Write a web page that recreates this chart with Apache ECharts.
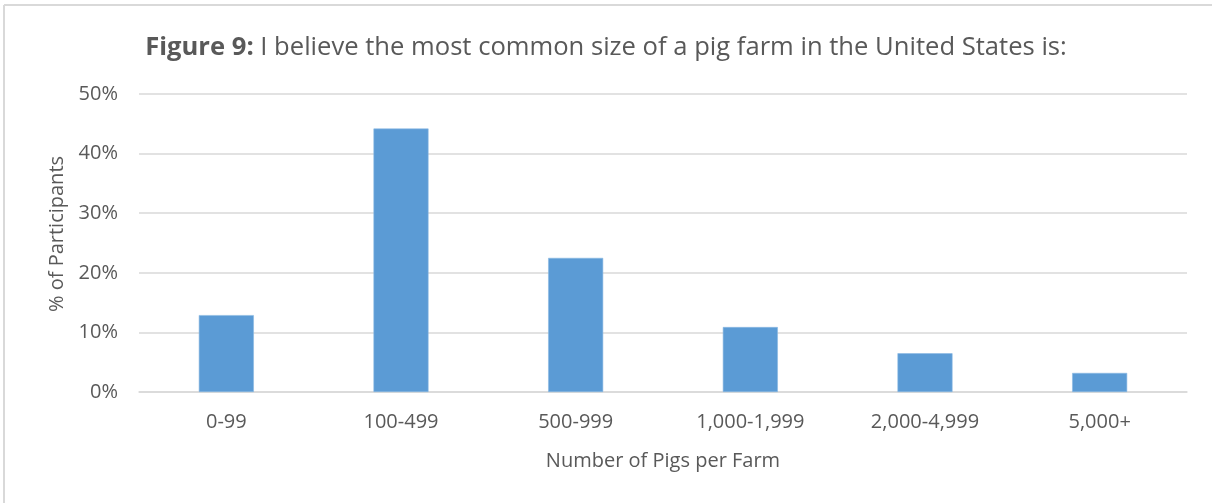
<!DOCTYPE html>
<html>
<head>
<meta charset="utf-8">
<script src="https://cdn.jsdelivr.net/npm/echarts@6/dist/echarts.min.js"></script>
<style>
  html, body { margin: 0; padding: 0; background: #fff; }
  #chart { width: 1212px; height: 503px; }
</style>
</head>
<body>
<div id="chart"></div>
<script>
// Farm size categories and share of participants choosing each (%)
const categories = ['0-99', '100-499', '500-999', '1,000-1,999', '2,000-4,999', '5,000+'];
const participantShare = [12.9, 44.2, 22.5, 10.9, 6.5, 3.2];
const yTicks = [0, 10, 20, 30, 40, 50];

const FONT = '"Open Sans", "Noto Sans", sans-serif';
const TEXT = '#595959';

const chart = echarts.init(document.getElementById('chart'), null, { renderer: 'canvas' });

chart.setOption({
  backgroundColor: '#ffffff',
  animation: false,
  title: {
    text: '{b|Figure 9:} I believe the most common size of a pig farm in the United States is:',
    left: 'center',
    top: 30,
    textStyle: {
      fontFamily: FONT,
      fontSize: 25.6,
      fontWeight: 'normal',
      color: TEXT,
      rich: {
        b: { fontFamily: FONT, fontSize: 25.6, fontWeight: 'bold', color: TEXT }
      }
    }
  },
  graphic: [
    { type: 'line', shape: { x1: 4, y1: 5, x2: 1212, y2: 5 }, style: { stroke: '#d9d9d9', lineWidth: 2 } },
    { type: 'line', shape: { x1: 4, y1: 5, x2: 4, y2: 503 }, style: { stroke: '#d9d9d9', lineWidth: 2 } }
  ],
  grid: { left: 139, right: 25, top: 94, bottom: 111, containLabel: false },
  xAxis: {
    type: 'category',
    data: categories,
    name: 'Number of Pigs per Farm',
    nameLocation: 'middle',
    nameGap: 59,
    nameTextStyle: { fontFamily: FONT, fontSize: 20, color: TEXT },
    axisLine: { show: true, lineStyle: { color: '#d9d9d9', width: 1.5 } },
    axisTick: { show: false },
    axisLabel: { fontFamily: FONT, fontSize: 20, color: TEXT, margin: 20 }
  },
  yAxis: {
    type: 'value',
    min: yTicks[0],
    max: yTicks[yTicks.length - 1],
    interval: 10,
    name: '% of Participants',
    nameLocation: 'middle',
    nameGap: 72,
    nameRotate: 90,
    nameTextStyle: { fontFamily: FONT, fontSize: 20, color: TEXT, padding: [0, 0, 0, 18] },
    axisLine: { show: false },
    axisTick: { show: false },
    axisLabel: { fontFamily: FONT, fontSize: 20, color: TEXT, margin: 21, formatter: '{value}%' },
    splitLine: { lineStyle: { color: '#d9d9d9', width: 1.5 } }
  },
  series: [{
    type: 'bar',
    data: participantShare,
    barWidth: '31.5%',
    itemStyle: { color: '#5b9bd5', borderColor: '#8ab8e3', borderWidth: 0.6 }
  }]
});
</script>
</body>
</html>
